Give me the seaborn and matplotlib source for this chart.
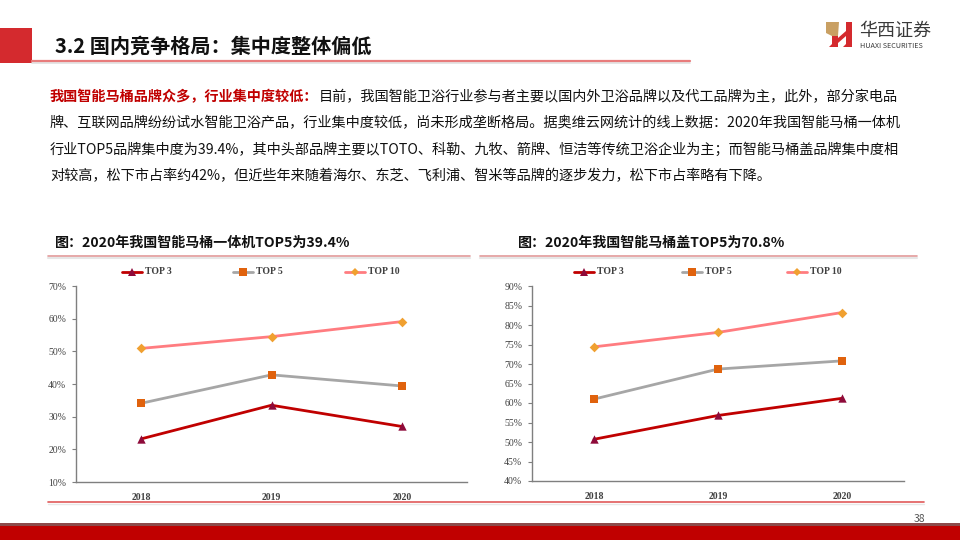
import matplotlib
matplotlib.use('Agg')
import matplotlib.pyplot as plt
import seaborn as sns
import pandas as pd
from matplotlib.lines import Line2D
from matplotlib.patches import Rectangle, Polygon
from matplotlib.ticker import FixedLocator

# ---------------- data ----------------
years = ['2018', '2019', '2020']
series = ['TOP 3', 'TOP 5', 'TOP 10']

left_top3 = [23.2, 33.5, 27.0]
left_top5 = [34.1, 42.8, 39.4]
left_top10 = [50.9, 54.5, 59.1]
left_yticks = [10, 20, 30, 40, 50, 60, 70]

right_top3 = [50.7, 56.8, 61.2]
right_top5 = [61.0, 68.7, 70.8]
right_top10 = [74.4, 78.1, 83.2]
right_yticks = [40, 45, 50, 55, 60, 65, 70, 75, 80, 85, 90]

header_title = '3.2 国内竞争格局：集中度整体偏低'
left_title = '图：2020年我国智能马桶一体机TOP5为39.4%'
right_title = '图：2020年我国智能马桶盖TOP5为70.8%'
para_red = '我国智能马桶品牌众多，行业集中度较低：'
para_lines = [
    '目前，我国智能卫浴行业参与者主要以国内外卫浴品牌以及代工品牌为主，此外，部分家电品',
    '牌、互联网品牌纷纷试水智能卫浴产品，行业集中度较低，尚未形成垄断格局。据奥维云网统计的线上数据：2020年我国智能马桶一体机',
    '行业TOP5品牌集中度为39.4%，其中头部品牌主要以TOTO、科勒、九牧、箭牌、恒洁等传统卫浴企业为主；而智能马桶盖品牌集中度相',
    '对较高，松下市占率约42%，但近些年来随着海尔、东芝、飞利浦、智米等品牌的逐步发力，松下市占率略有下降。',
]
page_no = '38'

# ---------------- style ----------------
line_colors = {'TOP 3': '#C00000', 'TOP 5': '#A6A6A6', 'TOP 10': '#FF7C80'}
marker_colors = {'TOP 3': '#8E0B3A', 'TOP 5': '#E0620D', 'TOP 10': '#F0A030'}
marker_map = {'TOP 3': '^', 'TOP 5': 's', 'TOP 10': 'D'}
marker_size = {'TOP 3': 5.5, 'TOP 5': 5.5, 'TOP 10': 4.5}

sns.set_theme(style='white')
plt.rcParams['font.family'] = ['Noto Sans CJK SC', 'DejaVu Sans']
SERIF = ['Liberation Serif', 'DejaVu Serif']

W, H = 960, 540
fig = plt.figure(figsize=(9.6, 5.4), dpi=100)
fig.patch.set_facecolor('white')


def fx(x):
    return x / W


def fy(y):
    return 1 - y / H


def fline(x0, x1, y0, y1, **kw):
    fig.add_artist(Line2D([fx(x0), fx(x1)], [fy(y0), fy(y1)], transform=fig.transFigure, **kw))


def frect(x0, y0, x1, y1, **kw):
    fig.add_artist(Rectangle((fx(x0), fy(y1)), fx(x1) - fx(x0), fy(y0) - fy(y1),
                             transform=fig.transFigure, **kw))


def fpoly(pts, **kw):
    fig.add_artist(Polygon([[fx(a), fy(b)] for a, b in pts], closed=True,
                           transform=fig.transFigure, **kw))


# ---------------- header ----------------
frect(0, 28, 32, 63, color='#D42A2E', lw=0)
fig.text(fx(55), fy(46), header_title, fontsize=14.5, fontweight='bold', color='#111111',
         va='center', ha='left')
fline(32, 690, 62.5, 62.5, color='#E0E0E0', lw=1.2)
fline(32, 690, 61, 61, color='#E87C7C', lw=1.6)

# logo
fpoly([(826, 22), (839, 22), (838, 36), (832, 36), (826, 33)], color='#C9A063', lw=0)
fpoly([(832, 36), (838, 36), (838, 47), (829, 47), (832, 44)], color='#D42A2E', lw=0)
fpoly([(838, 38), (846, 31), (846, 36), (838, 43)], color='#D42A2E', lw=0)
fpoly([(846, 22), (852, 22), (852, 47), (843, 47), (846, 44)], color='#D42A2E', lw=0)
fig.text(fx(859), fy(31), '华西证券', fontsize=13, color='#3A3A3A', va='center', ha='left')
fig.text(fx(860), fy(46), 'HUAXI SECURITIES', fontsize=5.2, color='#3A3A3A', va='center', ha='left')

# ---------------- paragraph ----------------
fig.canvas.draw()
renderer = fig.canvas.get_renderer()
para_fs = 10.2
line_ys = [97, 123, 150, 176]
t_red = fig.text(fx(50), fy(line_ys[0]), para_red, fontsize=para_fs, fontweight='bold',
                 color='#C00000', va='center', ha='left')
bb = t_red.get_window_extent(renderer=renderer)
fig.text(bb.x1 / fig.bbox.width, fy(line_ys[0]), para_lines[0], fontsize=para_fs,
         color='#111111', va='center', ha='left')
for txt, yy in zip(para_lines[1:], line_ys[1:]):
    fig.text(fx(50), fy(yy), txt, fontsize=para_fs, color='#111111', va='center', ha='left')


# ---------------- charts ----------------
def draw_chart(px_left, px_right, px_top, px_bottom, v3, v5, v10, yticks, title, title_x,
               rule_x0, rule_x1, legend_xs):
    ax = fig.add_axes([fx(px_left), fy(px_bottom), fx(px_right) - fx(px_left),
                       fy(px_top) - fy(px_bottom)])
    df = pd.DataFrame({
        'year': years * 3,
        'value': v3 + v5 + v10,
        'series': [series[0]] * 3 + [series[1]] * 3 + [series[2]] * 3,
    })
    sns.lineplot(data=df, x='year', y='value', hue='series', hue_order=series,
                 palette=line_colors, linewidth=2.0, sort=False, legend=False, ax=ax)
    for s in series:
        sub = df[df['series'] == s]
        sns.scatterplot(data=sub, x='year', y='value', marker=marker_map[s],
                        color=marker_colors[s], s=marker_size[s] ** 2 * 1.2, linewidth=0,
                        zorder=4, legend=False, ax=ax)
    ax.set_xlim(-0.5, 2.5)
    ax.set_ylim(yticks[0], yticks[-1])
    ax.set_xlabel('')
    ax.set_ylabel('')
    ax.set_facecolor('white')
    for sp in ['top', 'right']:
        ax.spines[sp].set_visible(False)
    for sp in ['left', 'bottom']:
        ax.spines[sp].set_color('#7F7F7F')
        ax.spines[sp].set_linewidth(1.0)
    ax.yaxis.set_major_locator(FixedLocator(yticks))
    ax.set_yticklabels([f'{v}%' for v in yticks], fontsize=7, color='#404040', family=SERIF)
    ax.xaxis.set_major_locator(FixedLocator([0, 1, 2]))
    ax.set_xticklabels(years, fontsize=7, color='#404040', family=SERIF, fontweight='bold')
    ax.xaxis.set_minor_locator(FixedLocator([-0.5, 0.5, 1.5, 2.5]))
    ax.tick_params(axis='x', which='major', length=0, pad=8)
    ax.tick_params(axis='x', which='minor', length=3, width=0.8, color='#7F7F7F', direction='out')
    ax.tick_params(axis='y', which='major', length=3, width=0.8, color='#7F7F7F', direction='out',
                   pad=4, left=True)
    ax.grid(False)

    # title and rule
    fig.text(fx(title_x), fy(243), title, fontsize=10.1, fontweight='bold', color='#111111',
             va='center', ha='left')
    fline(rule_x0, rule_x1, 257.5, 257.5, color='#E6E6E6', lw=1.5)
    fline(rule_x0, rule_x1, 256, 256, color='#E29A9A', lw=1.2)

    # legend
    for s, lx in zip(series, legend_xs):
        fline(lx, lx + 20, 272, 272, color=line_colors[s], lw=2.0)
        fig.add_artist(Line2D([fx(lx + 10)], [fy(272)], transform=fig.transFigure,
                              marker=marker_map[s], color=marker_colors[s], markersize=marker_size[s],
                              markeredgewidth=0, linestyle='none'))
        fig.text(fx(lx + 23), fy(272), s, fontsize=7, fontweight='bold', color='#404040',
                 family=SERIF, va='center', ha='left')
    return ax


draw_chart(76, 467, 286, 482, left_top3, left_top5, left_top10, left_yticks, left_title, 55,
           48, 470, [122, 233, 345])
draw_chart(532, 904, 286, 481, right_top3, right_top5, right_top10, right_yticks, right_title, 518,
           480, 917, [574, 682, 787])

# ---------------- footer ----------------
fline(48, 924, 502, 502, color='#E05A5A', lw=1.2)
fline(48, 924, 503.5, 503.5, color='#E8E8E8', lw=1.0)
fig.text(fx(925), fy(519), page_no, fontsize=7.5, color='#555555', va='center', ha='right')
frect(0, 523, 960, 526, color='#8C4A4A', lw=0)
frect(0, 526, 960, 540, color='#C00000', lw=0)

fig.savefig('out.png', dpi=100, facecolor='white')
